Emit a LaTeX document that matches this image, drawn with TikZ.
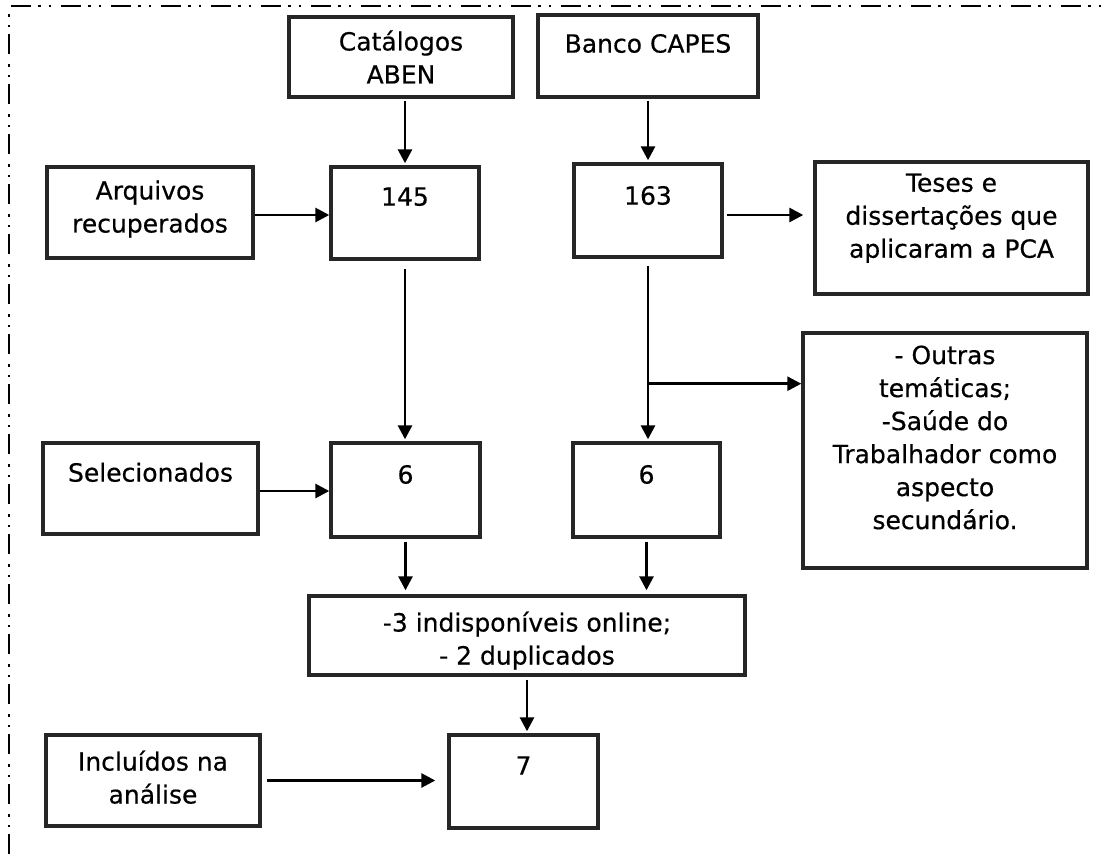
\documentclass[tikz,border=0pt]{standalone}
\usepackage{fontspec}
\setmainfont{DejaVu Sans}[FakeBold=0.5]
\usetikzlibrary{arrows.meta,calc}
\begin{document}
\begin{tikzpicture}[x=1pt,y=-1pt,
  box/.style={draw=black!85, line width=3.4pt, inner sep=0pt, rectangle},
  txt/.style={anchor=north, inner sep=0pt, align=center, text=black,
    font=\fontsize{25}{33}\selectfont, execute at begin node=\strut},
  arr/.style={draw=black, line width=2.8pt, -{Triangle[length=14pt,width=14pt]}},
  frameline/.style={draw=black, line width=2.8pt,
    dash pattern=on 20pt off 7pt on 2.5pt off 8pt on 2.5pt off 10pt}]
\useasboundingbox (0,0) rectangle (1105,854);
\draw[frameline] (9,854) -- (9,6) -- (1105,6);

% boxes
\node[box, minimum width=224pt, minimum height=80pt] (aben) at (401,57) {};
\node[box, minimum width=220pt, minimum height=82pt] (capes) at (648,56) {};
\node[box, minimum width=206pt, minimum height=91pt] (arq) at (150,212.5) {};
\node[box, minimum width=148pt, minimum height=92pt] (n145) at (405,213) {};
\node[box, minimum width=148pt, minimum height=93pt] (n163) at (648,210.5) {};
\node[box, minimum width=273pt, minimum height=132pt] (teses) at (951.5,228) {};
\node[box, minimum width=284pt, minimum height=235pt] (outras) at (945,450.5) {};
\node[box, minimum width=215pt, minimum height=91pt] (sel) at (150.5,488.5) {};
\node[box, minimum width=149pt, minimum height=94pt] (six1) at (405.5,490) {};
\node[box, minimum width=147pt, minimum height=94pt] (six2) at (646.5,490) {};
\node[box, minimum width=436pt, minimum height=79pt] (dup) at (527,635.5) {};
\node[box, minimum width=149pt, minimum height=93pt] (seven) at (523.5,781.5) {};
\node[box, minimum width=214pt, minimum height=91pt] (incl) at (153,780.5) {};

% texts
\node[txt] (tAben) at ($(aben.north)+(0,15)$) {Catálogos\\ABEN};
\node[txt] (tCapes) at ($(capes.north)+(0,16)$) {Banco CAPES};
\node[txt] (tArq) at ($(arq.north)+(0,15)$) {Arquivos\\recuperados};
\node[txt] (t145) at ($(n145.north)+(0,17)$) {145};
\node[txt] (t163) at ($(n163.north)+(0,19)$) {163};
\node[txt] (tTeses) at ($(teses.north)+(0,13)$) {Teses e\\dissertações que\\aplicaram a PCA};
\node[txt] (tOutras) at ($(outras.north)+(0,14)$) {- Outras\\temáticas;\\-Saúde do\\Trabalhador como\\aspecto\\secundário.};
\node[txt] (tSel) at ($(sel.north)+(0,17)$) {Selecionados};
\node[txt] (tSix1) at ($(six1.north)+(0,19)$) {6};
\node[txt] (tSix2) at ($(six2.north)+(0,19)$) {6};
\node[txt] (tDup) at ($(dup.north)+(0,17)$) {-3 indisponíveis online;\\- 2 duplicados};
\node[txt] (tSeven) at ($(seven.north)+(0,18)$) {7};
\node[txt] (tIncl) at ($(incl.north)+(0,17)$) {Incluídos na\\análise};

% connectors
\draw[arr, shorten <=2pt, shorten >=2pt] (aben.south -| n145.north) -- (n145.north);
\draw[arr, shorten <=2pt, shorten >=2pt] (capes.south) -- (capes.south |- n163.north);
\draw[arr] ([yshift=-2.5pt]arq.east) -- ([yshift=-2.5pt]arq.east -| n145.west);
\draw[arr, shorten <=3pt, shorten >=10pt] ([yshift=-4.5pt]n163.east) -- ([yshift=-4.5pt]n163.east -| teses.west);
\draw[arr, shorten <=8pt, shorten >=2pt] (n145.south) -- (n145.south |- six1.north);
\draw[arr, shorten <=7pt, shorten >=2pt] (n163.south) -- (n163.south |- six2.north);
\coordinate (br) at ($(n163.south)+(0,125)$);
\draw[arr] (br) -- (br -| outras.west);
\draw[arr] ([yshift=-2.5pt]sel.east) -- ([yshift=-2.5pt]sel.east -| six1.west);
\draw[arr, shorten <=3pt, shorten >=4pt] (six1.south) -- (six1.south |- dup.north);
\draw[arr, shorten <=3pt, shorten >=4pt] (six2.south) -- (six2.south |- dup.north);
\draw[arr, shorten <=3pt, shorten >=2pt] (dup.south) -- (dup.south |- seven.north);
\draw[arr, shorten <=5pt, shorten >=12pt] (incl.east) -- (incl.east -| seven.west);
\end{tikzpicture}
\end{document}
